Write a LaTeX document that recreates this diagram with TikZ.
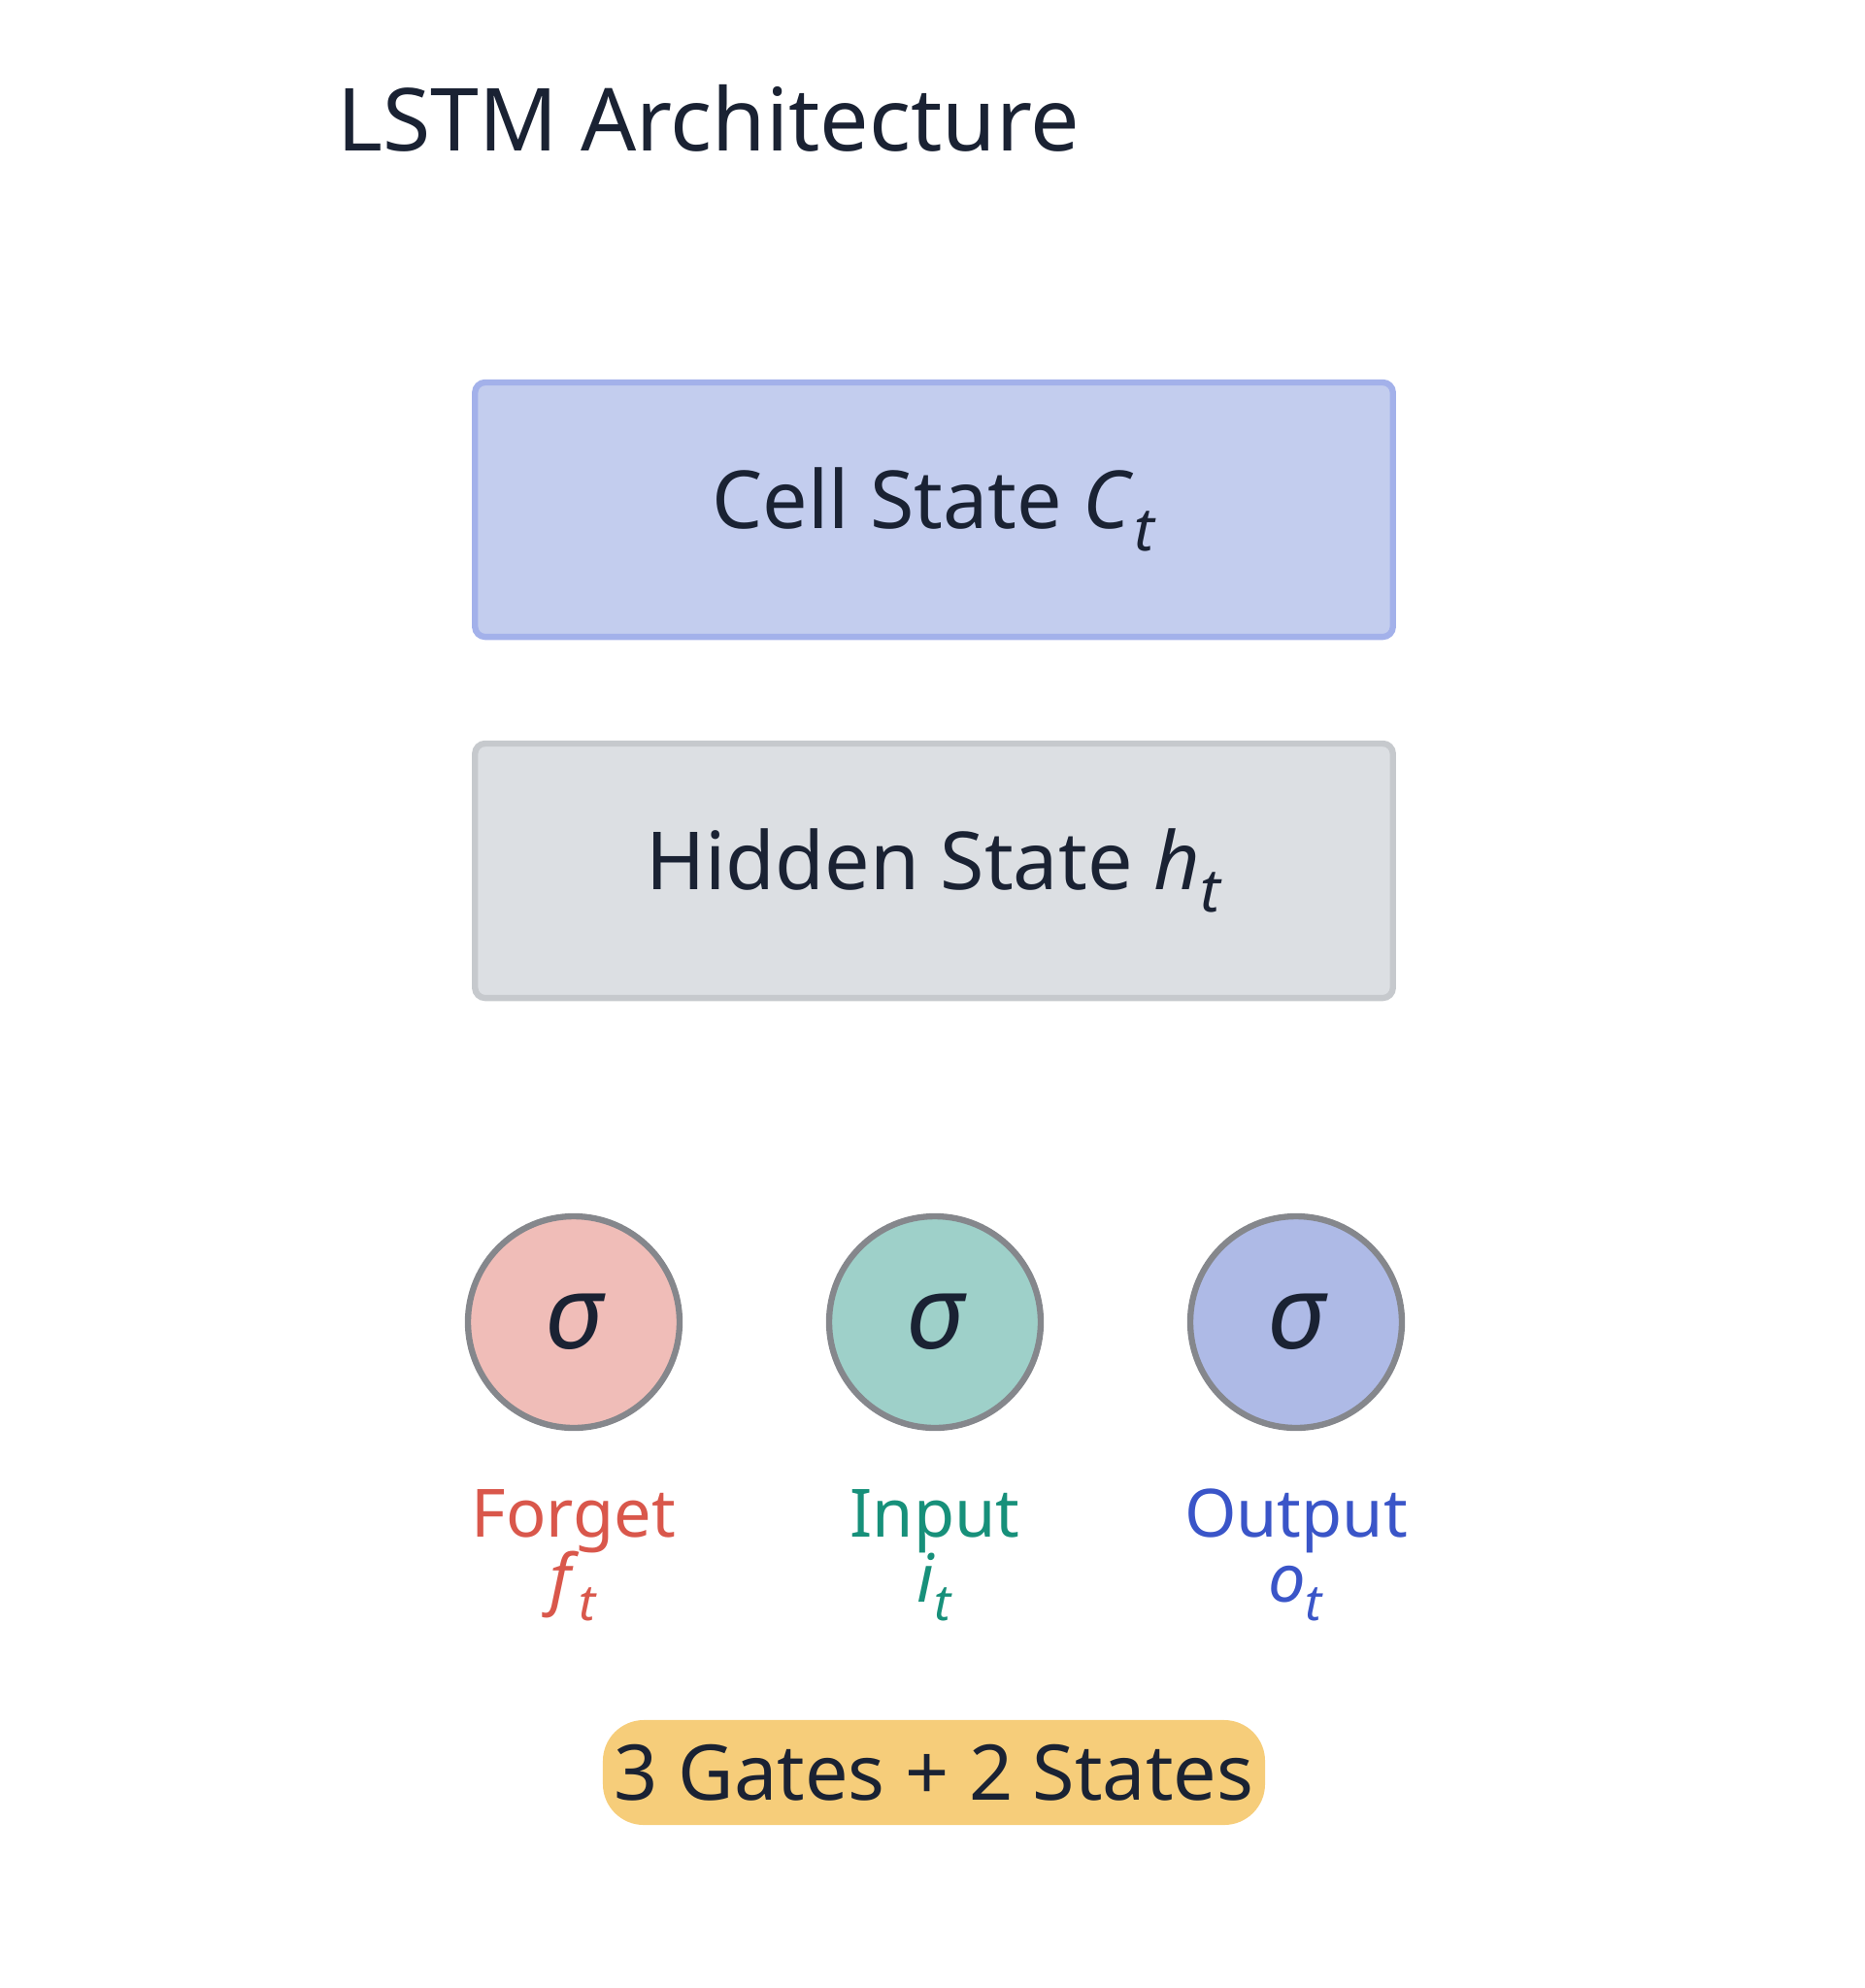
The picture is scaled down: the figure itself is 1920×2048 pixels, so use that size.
\documentclass[tikz,border=0pt]{standalone}
\usepackage{fontspec}
\setmainfont{Noto Sans}
\definecolor{cellf}{HTML}{C3CDEE}\definecolor{celld}{HTML}{A3B1EA}
\definecolor{hidf}{HTML}{DCDFE3}\definecolor{hidd}{HTML}{C6C9CD}
\definecolor{fgt}{HTML}{F0BDB8}\definecolor{inp}{HTML}{9ED0C9}\definecolor{outp}{HTML}{AEBAE6}
\definecolor{fgtt}{HTML}{D9574B}\definecolor{inpt}{HTML}{17907A}\definecolor{outpt}{HTML}{3A55C8}
\definecolor{badge}{HTML}{F6CD7A}\definecolor{ink}{HTML}{1A2233}\definecolor{ring}{HTML}{85878C}
\newcommand{\sub}[2]{\textit{#1}\raisebox{-0.28em}{\scalebox{0.75}{\textit{#2}}}}
\begin{document}
\begin{tikzpicture}[x=0.01cm,y=-0.01cm,
 gate/.style={circle,draw=ring,line width=1.8pt,fill=#1,minimum size=218*0.01cm,inner sep=0pt,font=\fontsize{30}{36}\selectfont\itshape,text=ink},
 glabel/.style={align=center,font=\fontsize{19.5}{25}\selectfont,text=#1}]
\useasboundingbox (0,0) rectangle (1920,2048);
\node[anchor=west,font=\fontsize{25.5}{30}\selectfont,text=ink] (title) at (335,122) {LSTM Architecture};
\node[draw=celld,fill=cellf,line width=1.8pt,rounded corners=3pt,minimum width=9.45cm,minimum height=2.62cm,font=\fontsize{23.5}{30}\selectfont,text=ink] (cell) at (962,525) {Cell State \sub{C}{t}};
\node[draw=hidd,fill=hidf,line width=1.8pt,rounded corners=3pt,minimum width=9.45cm,minimum height=2.62cm,font=\fontsize{23.5}{30}\selectfont,text=ink] (hid) at (962,897) {Hidden State \sub{h}{t}};
\node[gate=fgt] (f) at (591,1362) {σ};
\node[gate=inp] (i) at (963,1362) {σ};
\node[gate=outp] (o) at (1335,1362) {σ};
\node[glabel=fgtt] (fl) at (591,1602) {Forget\\[-6pt]\sub{f}{t}};
\node[glabel=inpt] (il) at (963,1602) {Input\\[-6pt]\sub{i}{t}};
\node[glabel=outpt] (ol) at (1335,1602) {Output\\[-6pt]\sub{o}{t}};
\node[fill=badge,rounded corners=12pt,minimum width=6.49cm,minimum height=1.08cm,font=\fontsize{22.5}{29}\selectfont,text=ink] (b) at (962,1826) {3 Gates + 2 States};
\end{tikzpicture}
\end{document}
